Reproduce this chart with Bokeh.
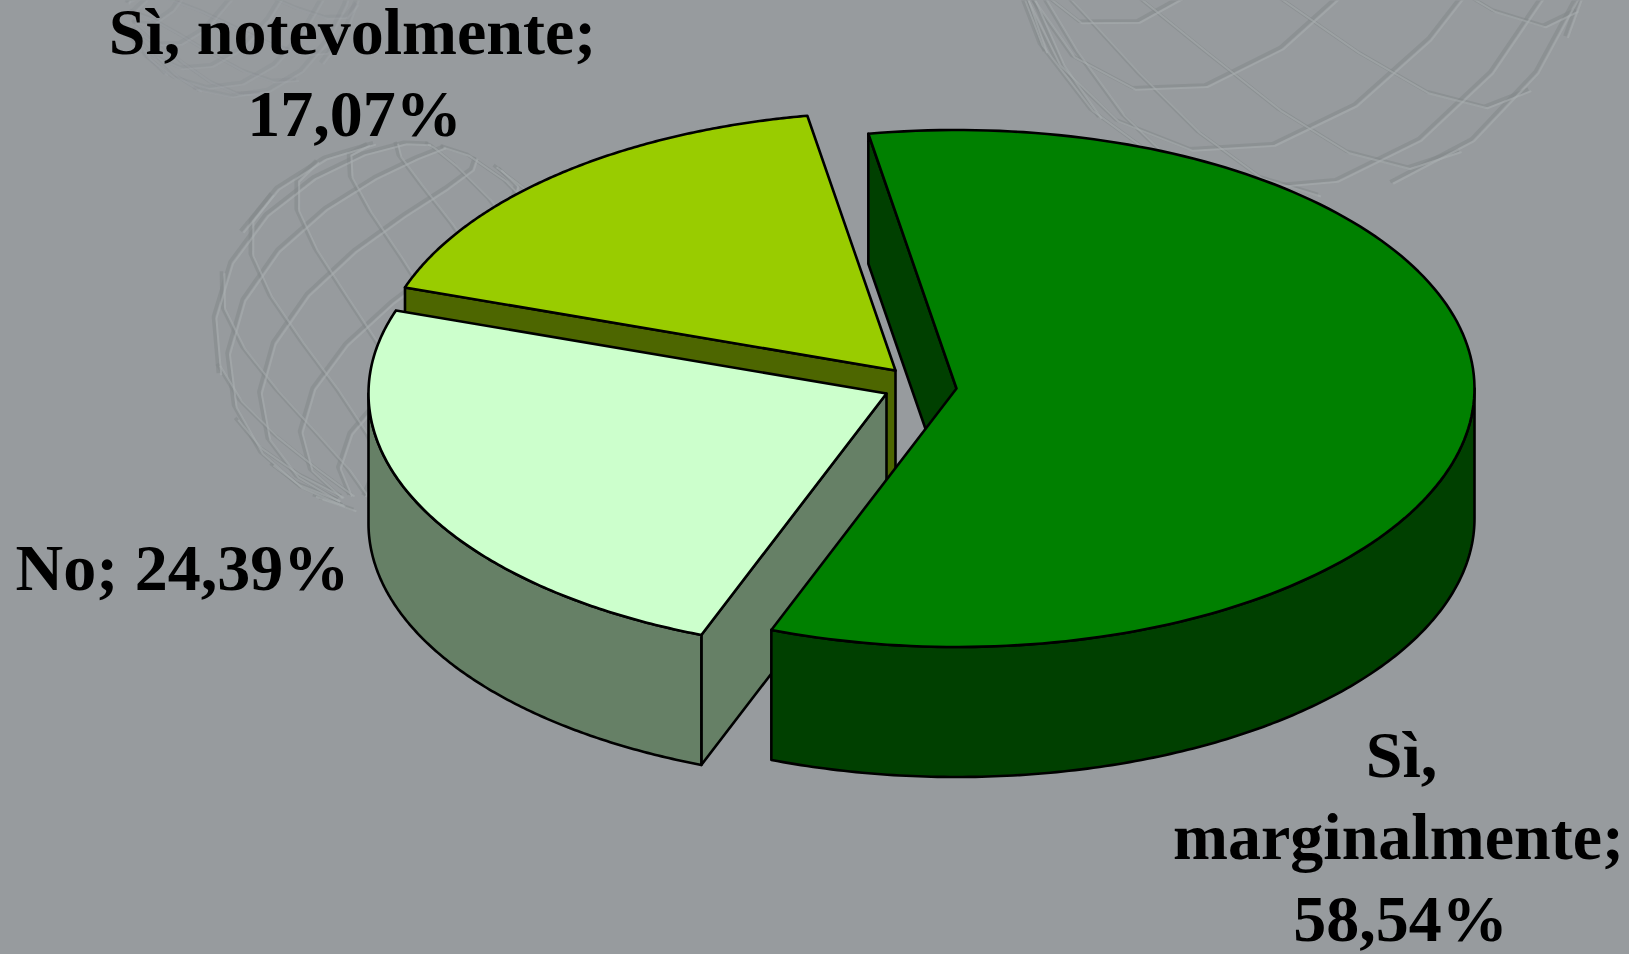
import numpy as np
from bokeh.plotting import figure
from bokeh.models import Range1d
from bokeh.embed import file_html
from bokeh.resources import INLINE
from bokeh.core.properties import value

# ---- data -------------------------------------------------------------
categories = ["Sì, marginalmente", "No", "Sì, notevolmente"]
percent = [58.54, 24.39, 17.07]
value_labels = ["58,54%", "24,39%", "17,07%"]

# ---- colours ----------------------------------------------------------
top_colors = ["#008000", "#CCFFCC", "#99CC00"]
side_colors = ["#004000", "#668066", "#4D6600"]
BG = "#979B9E"

# ---- layout of the pseudo 3D pie (pixels of the picture) ---------------
W, H = 1629, 954
RX, RY, DEPTH = 518, 258.5, 130
START = -9.8
centers = [(956, 388), (886, 393), (895, 370)]
TEXT_LIFT = 24  # the svg text sits this far under the asked-for baseline

p = figure(width=W, height=H, output_backend="svg", toolbar_location=None,
           x_range=Range1d(0, W), y_range=Range1d(H, 0),
           background_fill_color=BG, border_fill_color=BG, min_border=0)
p.axis.visible = False
p.grid.visible = False
p.outline_line_color = None


def sphere(cx, cy, r, tilt, roll, spin, n=13):
    """Faint lattice globe of the slide background: straight struts in two twisted families."""
    xs, ys = [], []
    lat = np.radians(np.linspace(-80, 80, 12))
    t, q = np.radians(tilt), np.radians(roll)
    for sign in (1, -1):
        for k in range(n):
            lon = np.radians(spin + 360 * k / n) + sign * 0.9 * lat
            x = np.cos(lat) * np.sin(lon)
            y = np.sin(lat)
            z = np.cos(lat) * np.cos(lon)
            y2 = y * np.cos(t) - z * np.sin(t)
            z2 = y * np.sin(t) + z * np.cos(t)
            x3 = x * np.cos(q) - y2 * np.sin(q)
            y3 = x * np.sin(q) + y2 * np.cos(q)
            xs.append(np.where(z2 > -0.1, cx + r * x3, np.nan))
            ys.append(np.where(z2 > -0.1, cy + r * y3, np.nan))
    return xs, ys


for (cx, cy, r, tilt, roll, spin, alpha) in [(1300, -105, 300, 15, 80, 12, 0.55),
                                             (400, 328, 188, 15, 10, 30, 0.55),
                                             (235, -30, 125, 15, 70, 20, 0.22)]:
    xs, ys = sphere(cx, cy, r, tilt, roll, spin)
    p.multi_line(xs, ys, line_color="#84888B", line_alpha=alpha, line_width=3.5)
    p.multi_line([x + 3 for x in xs], [y + 2 for y in ys], line_color="#AAAEB1",
                 line_alpha=alpha, line_width=2)


def arc(c, a0, a1):
    a = np.radians(np.linspace(a0, a1, 160))
    return c[0] + RX * np.sin(a), c[1] - RY * np.cos(a)


# Sweep of every slice, clockwise, from the values
frac = np.array(percent) / sum(percent) * 360
starts = START + np.concatenate([[0], np.cumsum(frac)[:-1]])
ends = starts + frac


def poly(x, y, color):
    p.patch(list(x), list(y), fill_color=color, line_color="black",
            line_width=2.6, line_join="round")


for i in [2, 1, 0]:
    c, a0, a1 = centers[i], starts[i], ends[i]
    ax, ay = arc(c, a0, a1)
    # inner wall below the slice's first edge
    ex, ey = (ax[0], ay[0])
    poly([ex, c[0], c[0], ex], [ey, c[1], c[1] + DEPTH, ey + DEPTH], side_colors[i])
    # rim, only where the ellipse faces the viewer
    lo, hi = max(a0, 90), min(a1, 270)
    if hi > lo:
        rx, ry = arc(c, lo, hi)
        poly(np.r_[rx, rx[::-1]], np.r_[ry, ry[::-1] + DEPTH], side_colors[i])
    # top
    poly(np.r_[c[0], ax], np.r_[c[1], ay], top_colors[i])

# ---- labels -----------------------------------------------------------
lines = [("Sì, notevolmente;", 352, 55, "center"),
         (value_labels[2], 354, 137, "center"),
         ("No; " + value_labels[1], 15, 591, "left"),
         ("Sì,", 1401, 778, "center"),
         ("marginalmente;", 1398, 860, "center"),
         (value_labels[0], 1400, 942, "center")]
for txt, x, y, al in lines:
    p.text([x], [y - TEXT_LIFT], text=[txt], text_font=value("Liberation Serif"),
           text_font_style="bold", text_font_size="66px", text_color="black",
           text_align=al, text_baseline="alphabetic")

TEMPLATE = """
{% block preamble %}<style>html,body{margin:0;padding:0;overflow:hidden;background:#979B9E}</style>{% endblock %}
"""
open("out.html", "w").write(file_html(p, INLINE, template=TEMPLATE))
